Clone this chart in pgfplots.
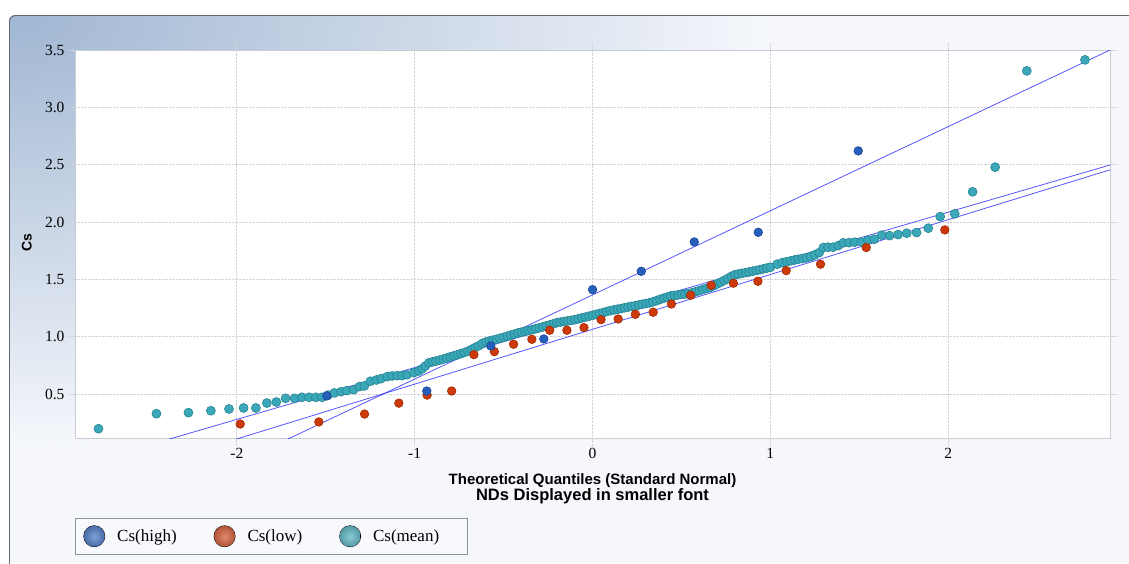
\documentclass[border=0pt]{standalone}
\usepackage{pgfplots}
\pgfplotsset{compat=1.18}
\usepackage{fontspec}
\setmainfont{Liberation Serif}
\setsansfont{Liberation Sans}
\definecolor{panelbg}{RGB}{245,247,251}
\definecolor{steel}{RGB}{160,182,210}
\definecolor{panelborder}{RGB}{100,106,116}
\definecolor{gridgray}{RGB}{212,212,216}
\definecolor{axisgray}{RGB}{200,204,212}
\definecolor{legborder}{RGB}{140,147,156}
\definecolor{legbg}{RGB}{248,249,252}
\definecolor{highfill}{RGB}{38,96,188}
\definecolor{highdraw}{RGB}{25,70,150}
\definecolor{lowfill}{RGB}{205,58,10}
\definecolor{lowdraw}{RGB}{160,40,0}
\definecolor{meanfill}{RGB}{58,168,184}
\definecolor{meandraw}{RGB}{38,132,148}
\definecolor{fitline}{RGB}{30,30,255}

\pgfplotstableread{
x y
-1.494 0.483
-0.932 0.526
-0.572 0.919
-0.274 0.980
0.000 1.410
0.274 1.570
0.572 1.826
0.932 1.910
1.494 2.620
}\highdata

\pgfplotstableread{
x y
-1.981 0.238
-1.539 0.256
-1.282 0.325
-1.089 0.420
-0.930 0.490
-0.792 0.526
-0.667 0.843
-0.552 0.869
-0.444 0.934
-0.341 0.977
-0.241 1.056
-0.144 1.056
-0.048 1.079
0.048 1.148
0.144 1.154
0.241 1.195
0.341 1.213
0.444 1.285
0.552 1.361
0.667 1.448
0.792 1.466
0.930 1.483
1.089 1.576
1.282 1.632
1.539 1.777
1.981 1.931
}\lowdata

\pgfplotstableread{
x y
-2.778 0.197
-2.452 0.328
-2.272 0.337
-2.146 0.354
-2.044 0.369
-1.962 0.378
-1.893 0.378
-1.831 0.421
-1.778 0.430
-1.726 0.462
-1.675 0.462
-1.634 0.471
-1.594 0.471
-1.556 0.471
-1.521 0.471
-1.487 0.490
-1.452 0.509
-1.414 0.520
-1.381 0.529
-1.343 0.538
-1.310 0.564
-1.283 0.570
-1.249 0.611
-1.215 0.622
-1.189 0.634
-1.155 0.651
-1.127 0.657
-1.099 0.660
-1.071 0.660
-1.043 0.668
-1.005 0.686
-0.977 0.700
-0.958 0.720
-0.940 0.744
-0.92 0.772
-0.90 0.780
-0.88 0.787
-0.86 0.795
-0.84 0.804
-0.82 0.813
-0.80 0.823
-0.78 0.832
-0.76 0.842
-0.74 0.852
-0.72 0.862
-0.70 0.873
-0.68 0.889
-0.66 0.905
-0.64 0.920
-0.62 0.940
-0.60 0.953
-0.58 0.961
-0.56 0.969
-0.54 0.977
-0.52 0.985
-0.50 0.994
-0.48 1.004
-0.46 1.013
-0.44 1.022
-0.42 1.032
-0.40 1.039
-0.38 1.046
-0.36 1.054
-0.34 1.061
-0.32 1.069
-0.30 1.077
-0.28 1.085
-0.26 1.094
-0.24 1.103
-0.22 1.112
-0.20 1.122
-0.18 1.127
-0.16 1.132
-0.14 1.137
-0.12 1.142
-0.10 1.148
-0.08 1.155
-0.06 1.163
-0.04 1.170
-0.02 1.178
0.00 1.186
0.02 1.194
0.04 1.202
0.06 1.210
0.08 1.219
0.10 1.227
0.12 1.233
0.14 1.239
0.16 1.245
0.18 1.252
0.20 1.258
0.22 1.264
0.24 1.270
0.26 1.276
0.28 1.283
0.30 1.289
0.32 1.295
0.34 1.304
0.36 1.314
0.38 1.325
0.40 1.335
0.42 1.345
0.44 1.355
0.46 1.359
0.48 1.364
0.50 1.368
0.52 1.372
0.54 1.377
0.56 1.383
0.58 1.392
0.60 1.401
0.62 1.411
0.64 1.420
0.66 1.429
0.68 1.443
0.70 1.459
0.72 1.474
0.74 1.490
0.76 1.507
0.78 1.525
0.80 1.540
0.82 1.546
0.84 1.552
0.86 1.558
0.88 1.564
0.90 1.571
0.92 1.577
0.94 1.584
0.96 1.591
0.98 1.598
1.00 1.605
1.039 1.632
1.068 1.646
1.092 1.654
1.114 1.661
1.137 1.669
1.157 1.675
1.180 1.681
1.202 1.687
1.227 1.698
1.249 1.713
1.275 1.733
1.298 1.777
1.324 1.780
1.352 1.780
1.382 1.794
1.410 1.818
1.442 1.820
1.474 1.824
1.512 1.826
1.549 1.841
1.585 1.850
1.626 1.885
1.670 1.881
1.718 1.890
1.767 1.902
1.822 1.908
1.888 1.946
1.955 2.047
2.037 2.071
2.137 2.263
2.264 2.478
2.442 3.318
2.769 3.414
}\meandata

\begin{document}
\begin{tikzpicture}
\path[use as bounding box] (0,0) rectangle (1129pt,-563pt);
\fill[white] (0,0) rectangle (1129pt,-563pt);
\begin{scope}
\clip[rounded corners=6pt] (9pt,-15pt) rectangle (1160pt,-590pt);
\fill[panelbg] (0,0) rectangle (1129pt,-563pt);
\shade[inner color=steel, outer color=panelbg] (9pt,-15pt) ellipse (760pt and 430pt);
\end{scope}
\draw[panelborder, line width=0.9pt, rounded corners=6pt] (9.5pt,-590pt) -- (9.5pt,-15.5pt) -- (1160pt,-15.5pt);

\begin{axis}[
  at={(75pt,-50pt)}, anchor=north west,
  scale only axis, width=1035pt, height=388pt,
  xmin=-2.91, xmax=2.91, ymin=0.116, ymax=3.5,
  xtick={-2,-1,0,1,2}, ytick={0.5,1.0,1.5,2.0,2.5,3.0,3.5},
  grid=major,
  major grid style={gridgray, densely dotted, line width=0.7pt},
  axis line style={axisgray, line width=1pt},
  tick align=outside, major tick length=7pt,
  tick style={gridgray, densely dotted, line width=0.7pt},
  axis background/.style={fill=white},
  /pgf/number format/assume math mode=true,
  ticklabel style={font=\fontsize{15.5}{18}\selectfont},
  yticklabel style={/pgf/number format/.cd, fixed, fixed zerofill, precision=1},
  ylabel={Cs},
  ylabel style={font=\sffamily\bfseries\fontsize{14}{16}\selectfont, at={(axis description cs:-0.0465,0.503)}, anchor=center},
  xlabel={Theoretical Quantiles (Standard Normal)\\{\fontsize{16.5}{16}\selectfont NDs Displayed in smaller font}},
  xlabel style={align=center, font=\sffamily\bfseries\fontsize{15}{16}\selectfont, at={(axis description cs:0.5,-0.083)}, anchor=north},
  legend columns=3,
  reverse legend,
  legend style={at={(axis description cs:0,-0.206)}, anchor=north west,
    draw=legborder, fill=legbg, line width=0.8pt,
    font=\fontsize{17}{19}\selectfont,
    inner xsep=8pt, inner ysep=7pt,
    /tikz/column sep=10pt,
    /tikz/every even column/.append style={column sep=35pt}},
]
\addplot[only marks, mark=*, mark size=4.5pt, mark options={fill=meanfill, draw=meandraw, line width=0.6pt},
  legend image code/.code={\begin{scope}\clip (10pt,0pt) circle (10.5pt);\shade[inner color=meanfill!60!white, outer color=meandraw!80!black] (10pt,0pt) circle (21pt);\end{scope}}]
  table[x=x,y=y] {\meandata};
\addlegendentry{Cs(mean)\hspace*{18pt}}
\addplot[only marks, mark=*, mark size=4.3pt, mark options={fill=lowfill, draw=lowdraw, line width=0.6pt},
  legend image code/.code={\begin{scope}\clip (10pt,0pt) circle (10.5pt);\shade[inner color=lowfill!60!white, outer color=lowdraw!80!black] (10pt,0pt) circle (21pt);\end{scope}}]
  table[x=x,y=y] {\lowdata};
\addlegendentry{Cs(low)}
\addplot[only marks, mark=*, mark size=4.3pt, mark options={fill=highfill, draw=highdraw, line width=0.6pt},
  legend image code/.code={\begin{scope}\clip (10pt,0pt) circle (10.5pt);\shade[inner color=highfill!60!white, outer color=highdraw!80!black] (10pt,0pt) circle (21pt);\end{scope}}]
  table[x=x,y=y] {\highdata};
\addlegendentry{Cs(high)}
% fitted reference lines
\addplot[forget plot, fitline, opacity=0.75, line width=0.8pt] coordinates {(-2.91,-0.133) (2.91,2.497)};
\addplot[forget plot, fitline, opacity=0.75, line width=0.8pt] coordinates {(-2.91,-0.327) (2.91,2.455)};
\addplot[forget plot, fitline, opacity=0.75, line width=0.8pt] coordinates {(-2.91,-0.772) (2.91,3.500)};
\end{axis}
\end{tikzpicture}
\end{document}
